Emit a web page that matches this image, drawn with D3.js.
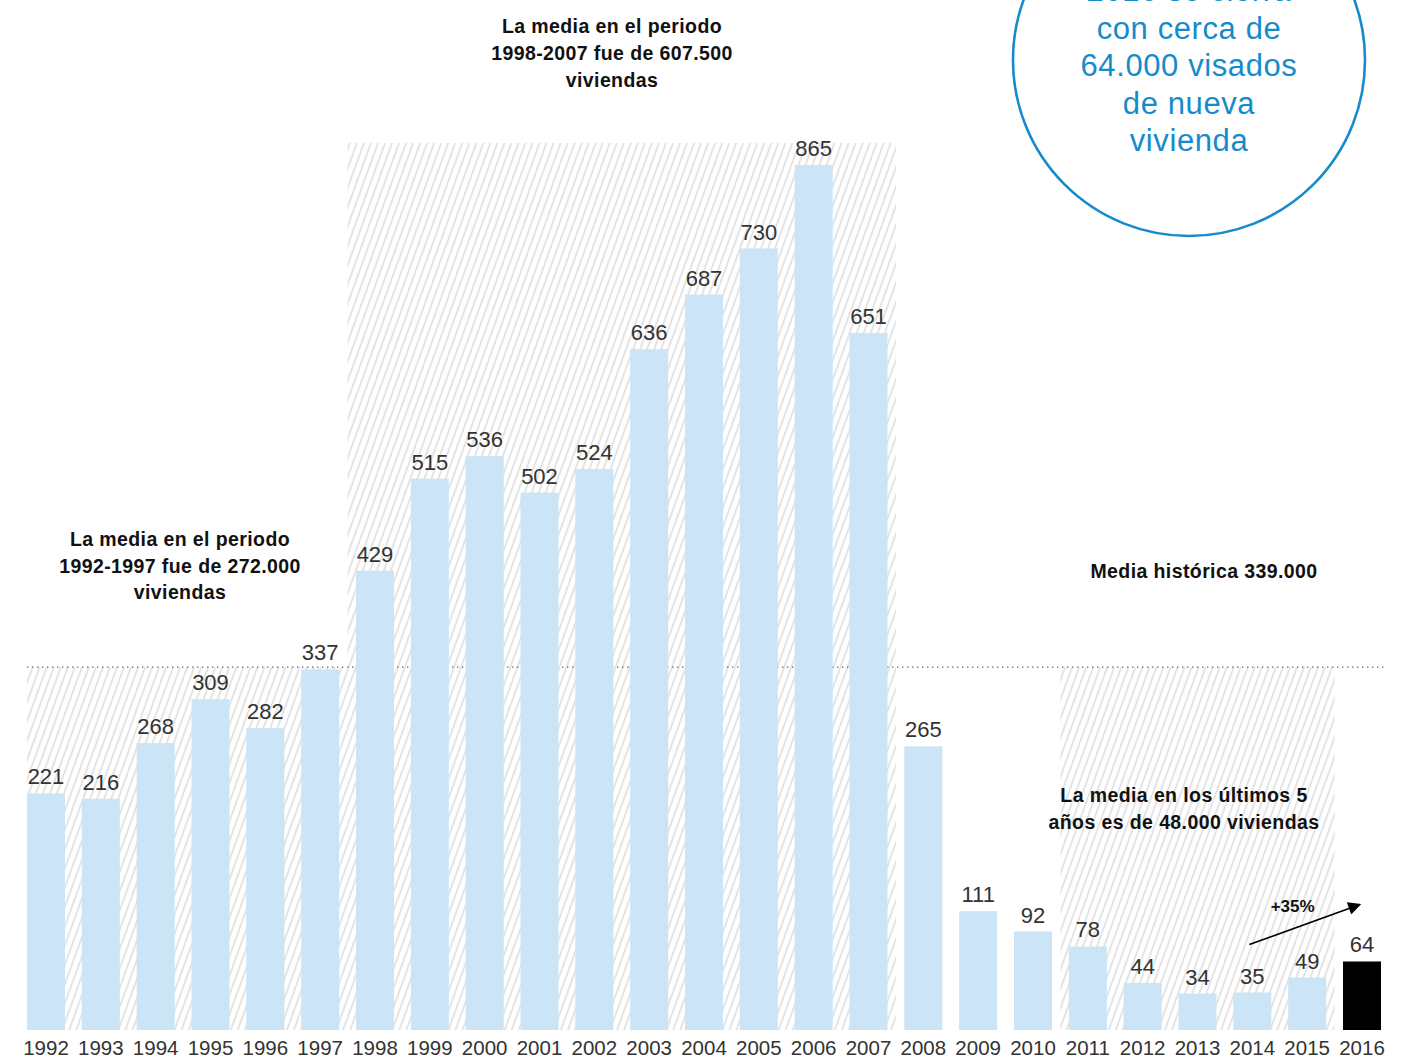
<!DOCTYPE html>
<html lang="es">
<head>
<meta charset="utf-8">
<script src="https://cdn.jsdelivr.net/npm/d3@7"></script>
<style>
  html, body { margin: 0; padding: 0; background: #fff; }
  svg { display: block; }
  text { font-family: "Liberation Sans", Arial, sans-serif; }
</style>
</head>
<body>
<svg id="chart" width="1408" height="1059"></svg>
<script>
// Visados de obra nueva (miles de viviendas) por año
const years = ["1992","1993","1994","1995","1996","1997","1998","1999","2000","2001","2002","2003","2004",
               "2005","2006","2007","2008","2009","2010","2011","2012","2013","2014","2015","2016"];
const visados = [221,216,268,309,282,337,429,515,536,502,524,636,687,730,865,651,265,111,92,78,44,34,35,49,64];

// Periodos sombreados
const periodStart = ["1992","1998","2011"];
const periodEnd   = ["1997","2007","2015"];
const periodTall  = [false, true, false];

const mediaHistorica = 339;
const highlightYear = "2016";

const periodNotes = [
  ["La media en el periodo", "1992-1997 fue de 272.000", "viviendas"],
  ["La media en el periodo", "1998-2007 fue de 607.500", "viviendas"],
  ["La media en los últimos 5", "años es de 48.000 viviendas"]
];
const mediaLabel = "Media histórica 339.000";
const growthLabel = "+35%";
const circleLines = ["2016 se cierra", "con cerca de", "64.000 visados", "de nueva", "vivienda"];

const svg = d3.select("#chart");
const baseY = 1030;

const x = d3.scaleBand().domain(years).range([27, 1381]).paddingInner(0.307).paddingOuter(0);
// The tallest bar is capped so it fits under the top annotation
const y = d3.scaleLinear().domain([0, 808]).range([baseY, 165]).clamp(true);
const bw = x.bandwidth();
const gap = x.step() - bw;

// Diagonal hatch
const defs = svg.append("defs");
const pat = defs.append("pattern")
  .attr("id", "hatch").attr("patternUnits", "userSpaceOnUse")
  .attr("width", 6.6).attr("height", 20)
  .attr("patternTransform", "rotate(20)");
pat.append("line").attr("x1", 1.5).attr("x2", 1.5).attr("y1", -2).attr("y2", 22)
  .attr("stroke", "#dcdcdc").attr("stroke-width", 1.6);

defs.append("marker")
  .attr("id", "arrow").attr("viewBox", "0 0 10 10")
  .attr("refX", 9).attr("refY", 5)
  .attr("markerWidth", 15).attr("markerHeight", 13)
  .attr("markerUnits", "userSpaceOnUse")
  .attr("orient", "auto")
  .append("path").attr("d", "M0,0 L10,5 L0,10 Z").attr("fill", "#000");

const yMedia = y(mediaHistorica);
const topTall = y(d3.max(visados)) - 22;

// Shaded period bands
periodStart.forEach((a, i) => {
  const b = periodEnd[i];
  const x0 = a === years[0] ? x(a) : x(a) - gap / 2;
  const x1 = x(b) + bw + gap / 2;
  const y0 = periodTall[i] ? topTall : yMedia;
  svg.append("rect")
    .attr("x", x0).attr("y", y0)
    .attr("width", x1 - x0).attr("height", baseY - y0)
    .attr("fill", "url(#hatch)");
});

// Historical mean line
svg.append("line")
  .attr("x1", 27).attr("x2", 1385)
  .attr("y1", yMedia).attr("y2", yMedia)
  .attr("stroke", "#666").attr("stroke-width", 1.4)
  .attr("stroke-dasharray", "1.4,3.6");

// Bars
svg.append("g").selectAll("rect")
  .data(years)
  .join("rect")
  .attr("x", d => x(d))
  .attr("y", (d, i) => y(visados[i]))
  .attr("width", bw)
  .attr("height", (d, i) => baseY - y(visados[i]))
  .attr("fill", d => d === highlightYear ? "#000" : "#cbe5f6");

// Value labels
svg.append("g").selectAll("text")
  .data(years)
  .join("text")
  .attr("x", d => x(d) + bw / 2)
  .attr("y", (d, i) => y(visados[i]) - 9)
  .attr("text-anchor", "middle")
  .attr("font-size", 22)
  .attr("fill", "#333")
  .text((d, i) => visados[i]);

// Year axis
const xAxis = svg.append("g")
  .attr("transform", `translate(0,${baseY})`)
  .call(d3.axisBottom(x).tickSize(0).tickPadding(0));
xAxis.select(".domain").remove();
xAxis.selectAll("text")
  .attr("y", 24.5).attr("dy", 0)
  .attr("font-size", 20.5)
  .attr("fill", "#333")
  .style("font-family", "Liberation Sans, Arial, sans-serif");

// Period notes
function note(lines, cx, firstBaseline, lh) {
  const t = svg.append("text")
    .attr("text-anchor", "middle")
    .attr("font-size", 19.5)
    .attr("letter-spacing", 0.4)
    .attr("font-weight", "bold")
    .attr("fill", "#111");
  lines.forEach((l, i) => {
    t.append("tspan").attr("x", cx).attr("y", firstBaseline + i * lh).text(l);
  });
}
note(periodNotes[0], 180, 546, 26.5);
note(periodNotes[1], 612, 33, 27);
note(periodNotes[2], 1184, 802, 26.5);
note([mediaLabel], 1204, 578, 26);

// Growth arrow 2014 -> 2016
const ax0 = x("2014") + bw / 2 - 3, ay0 = y(35) - 48;
const ax1 = x("2016") + bw / 2 - 2, ay1 = y(64) - 57;
svg.append("line")
  .attr("x1", ax0).attr("y1", ay0).attr("x2", ax1).attr("y2", ay1)
  .attr("stroke", "#000").attr("stroke-width", 1.6)
  .attr("marker-end", "url(#arrow)");
svg.append("text")
  .attr("x", (ax0 + ax1) / 2 - 12).attr("y", 912)
  .attr("text-anchor", "middle")
  .attr("font-size", 17).attr("font-weight", "bold")
  .attr("fill", "#111")
  .text(growthLabel);

// Callout circle
const cx = 1189, cy = 60, r = 176;
svg.append("circle")
  .attr("cx", cx).attr("cy", cy).attr("r", r)
  .attr("fill", "#fff")
  .attr("stroke", "#168bcb").attr("stroke-width", 2.6);
const ct = svg.append("text")
  .attr("text-anchor", "middle")
  .attr("font-size", 31)
  .attr("letter-spacing", 0.6)
  .attr("fill", "#168bcb");
circleLines.forEach((l, i) => {
  ct.append("tspan").attr("x", cx).attr("y", 1 + i * 37.5).text(l);
});
</script>
</body>
</html>
